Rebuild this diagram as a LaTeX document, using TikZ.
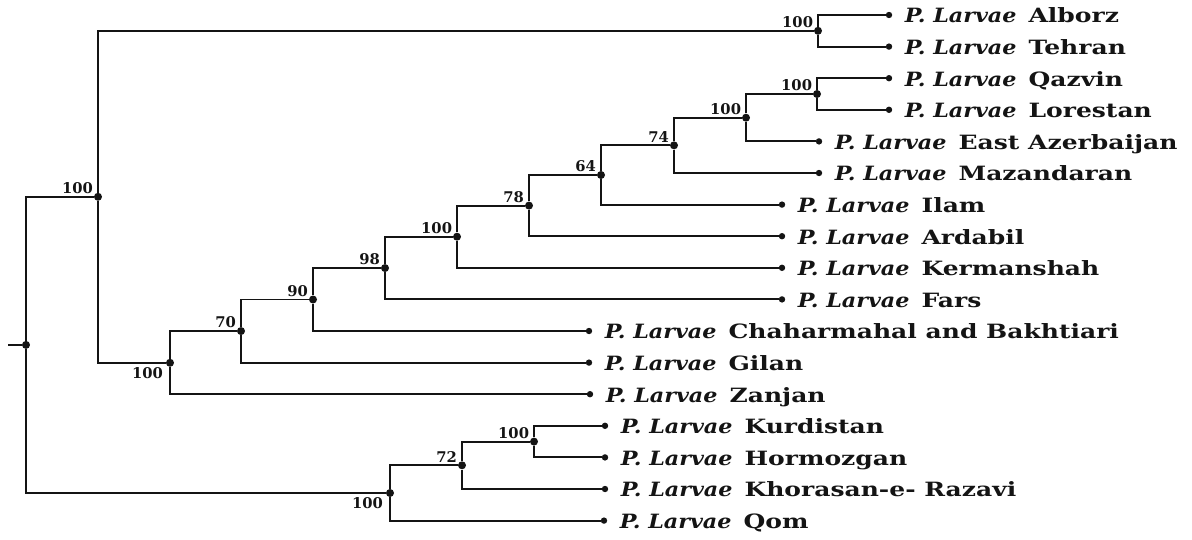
\documentclass[tikz,border=0pt]{standalone}
\usepackage{fontspec}
\setmainfont{DejaVu Serif}[BoldFeatures={FakeStretch=1.27}, BoldItalicFeatures={FakeStretch=1.13}]
\newfontfamily\bootfont{DejaVu Serif}
\usetikzlibrary{positioning, calc}
\definecolor{treeColor}{RGB}{20, 20, 20}
\tikzstyle{branch} = [line width=1.4pt, draw=treeColor]
\tikzstyle{clade} = [circle, fill=treeColor, inner sep=0pt, minimum size=0.2cm]
\tikzstyle{tip} = [circle, fill=treeColor, inner sep=0pt, minimum size=0.16cm]
\tikzstyle{taxon} = [inner sep=0pt, text=treeColor, font=\fontsize{14}{16}\selectfont, text height=1.6ex, text depth=0.3ex, yshift=-0.08cm]
\tikzstyle{boot} = [inner sep=0.5pt, text=treeColor, font=\bootfont\bfseries\fontsize{10.5}{12}\selectfont]
\newcommand{\larvae}[1]{\textbf{\textit{P. Larvae}}\hspace{0.3cm}\textbf{#1}}

\begin{document}
\begin{tikzpicture}[x=0.025cm, y=-0.025cm]
	\useasboundingbox (0,0) rectangle (1192,540);
	
	% leaves
	\node (alborz) [tip] at (889,15) {};
	\node (tehran) [tip] at (889,46.6) {};
	\node (qazvin) [tip] at (889,78.2) {};
	\node (lorestan) [tip] at (889,109.8) {};
	\node (eastaz) [tip] at (819,141.4) {};
	\node (mazand) [tip] at (819,173) {};
	\node (ilam) [tip] at (782,204.6) {};
	\node (ardabil) [tip] at (782,236.2) {};
	\node (kerman) [tip] at (782,267.8) {};
	\node (fars) [tip] at (782,299.4) {};
	\node (chahar) [tip] at (589,331) {};
	\node (gilan) [tip] at (589,362.6) {};
	\node (zanjan) [tip] at (590,394.2) {};
	\node (kurd) [tip] at (605,425.8) {};
	\node (hormoz) [tip] at (605,457.4) {};
	\node (khoras) [tip] at (605,489) {};
	\node (qom) [tip] at (604,520.6) {};
	
	\node [taxon, right=0.3cm of alborz] {\larvae{Alborz}};
	\node [taxon, right=0.3cm of tehran] {\larvae{Tehran}};
	\node [taxon, right=0.3cm of qazvin] {\larvae{Qazvin}};
	\node [taxon, right=0.3cm of lorestan] {\larvae{Lorestan}};
	\node [taxon, right=0.3cm of eastaz] {\larvae{East Azerbaijan}};
	\node [taxon, right=0.3cm of mazand] {\larvae{Mazandaran}};
	\node [taxon, right=0.3cm of ilam] {\larvae{Ilam}};
	\node [taxon, right=0.3cm of ardabil] {\larvae{Ardabil}};
	\node [taxon, right=0.3cm of kerman] {\larvae{Kermanshah}};
	\node [taxon, right=0.3cm of fars] {\larvae{Fars}};
	\node [taxon, right=0.3cm of chahar] {\larvae{Chaharmahal and Bakhtiari}};
	\node [taxon, right=0.3cm of gilan] {\larvae{Gilan}};
	\node [taxon, right=0.3cm of zanjan] {\larvae{Zanjan}};
	\node [taxon, right=0.3cm of kurd] {\larvae{Kurdistan}};
	\node [taxon, right=0.3cm of hormoz] {\larvae{Hormozgan}};
	\node [taxon, right=0.3cm of khoras] {\larvae{Khorasan-e- Razavi}};
	\node [taxon, right=0.3cm of qom] {\larvae{Qom}};
	
	% internal nodes
	\node (root) [clade] at (26,344.9) {};
	\node (top) [clade] at (98,196.8) {};
	\node (alte) [clade] at (818,30.8) {};
	\node (mid) [clade] at (170,362.8) {};
	\node (c70) [clade] at (241,331.05) {};
	\node (c90) [clade] at (313,299.5) {};
	\node (c98) [clade] at (385,268.05) {};
	\node (c100) [clade] at (457,236.7) {};
	\node (c78) [clade] at (529,205.6) {};
	\node (c64) [clade] at (601,175) {};
	\node (c74) [clade] at (674,145.35) {};
	\node (east) [clade] at (746,117.7) {};
	\node (qalo) [clade] at (817,94) {};
	\node (low) [clade] at (390,493) {};
	\node (c72) [clade] at (462,465.3) {};
	\node (kuho) [clade] at (534,441.6) {};
	
	\node [boot, above left=0.05cm and 0.1cm of top.center] {100};
	\node [boot, above left=0.05cm and 0.1cm of alte.center] {100};
	\node [boot, below left=0.1cm and 0.15cm of mid.center] {100};
	\node [boot, above left=0.05cm and 0.1cm of c70.center] {70};
	\node [boot, above left=0.05cm and 0.1cm of c90.center] {90};
	\node [boot, above left=0.05cm and 0.1cm of c98.center] {98};
	\node [boot, above left=0.05cm and 0.1cm of c100.center] {100};
	\node [boot, above left=0.05cm and 0.1cm of c78.center] {78};
	\node [boot, above left=0.05cm and 0.1cm of c64.center] {64};
	\node [boot, above left=0.05cm and 0.1cm of c74.center] {74};
	\node [boot, above left=0.05cm and 0.1cm of east.center] {100};
	\node [boot, above left=0.05cm and 0.1cm of qalo.center] {100};
	\node [boot, below left=0.1cm and 0.15cm of low.center] {100};
	\node [boot, above left=0.05cm and 0.1cm of c72.center] {72};
	\node [boot, above left=0.05cm and 0.1cm of kuho.center] {100};
	
	% branches
	\coordinate (stub) at (8,344.9);
	\draw[branch] (stub) -- (root);
	\draw[branch] (root) |- (top);
	\draw[branch] (root) |- (low);
	\draw[branch] (top) |- (alte);
	\draw[branch] (top) |- (mid);
	\draw[branch] (alte) |- (alborz);
	\draw[branch] (alte) |- (tehran);
	\draw[branch] (mid) |- (c70);
	\draw[branch] (mid) |- (zanjan);
	\draw[branch] (c70) |- (c90);
	\draw[branch] (c70) |- (gilan);
	\draw[branch] (c90) |- (c98);
	\draw[branch] (c90) |- (chahar);
	\draw[branch] (c98) |- (c100);
	\draw[branch] (c98) |- (fars);
	\draw[branch] (c100) |- (c78);
	\draw[branch] (c100) |- (kerman);
	\draw[branch] (c78) |- (c64);
	\draw[branch] (c78) |- (ardabil);
	\draw[branch] (c64) |- (c74);
	\draw[branch] (c64) |- (ilam);
	\draw[branch] (c74) |- (east);
	\draw[branch] (c74) |- (mazand);
	\draw[branch] (east) |- (qalo);
	\draw[branch] (east) |- (eastaz);
	\draw[branch] (qalo) |- (qazvin);
	\draw[branch] (qalo) |- (lorestan);
	\draw[branch] (low) |- (c72);
	\draw[branch] (low) |- (qom);
	\draw[branch] (c72) |- (kuho);
	\draw[branch] (c72) |- (khoras);
	\draw[branch] (kuho) |- (kurd);
	\draw[branch] (kuho) |- (hormoz);
\end{tikzpicture}
\end{document}
